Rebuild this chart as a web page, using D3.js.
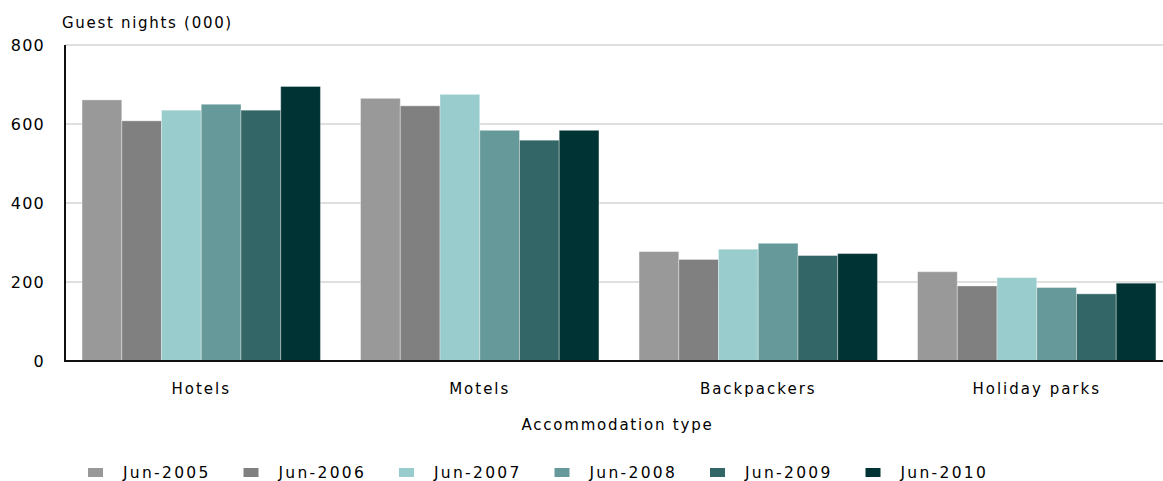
<!DOCTYPE html>
<html>
<head>
<meta charset="utf-8">
<script src="https://cdn.jsdelivr.net/npm/d3@7"></script>
<style>
  html, body { margin: 0; padding: 0; background: #fff; }
  svg text { font-family: "DejaVu Sans", Verdana, sans-serif; fill: #000; }
</style>
</head>
<body>
<svg id="chart" width="1163" height="481"></svg>
<script>
// ---- data ----
const categories = ["Hotels", "Motels", "Backpackers", "Holiday parks"];
const seriesNames = ["Jun-2005", "Jun-2006", "Jun-2007", "Jun-2008", "Jun-2009", "Jun-2010"];
const jun2005 = [661, 665, 277, 226];
const jun2006 = [608, 646, 257, 190];
const jun2007 = [635, 675, 283, 211];
const jun2008 = [650, 584, 298, 186];
const jun2009 = [635, 559, 267, 170];
const jun2010 = [695, 584, 272, 197];
const seriesValues = [jun2005, jun2006, jun2007, jun2008, jun2009, jun2010];
const yTicks = [0, 200, 400, 600, 800];
const colors = ["#999999", "#808080", "#99CCCC", "#669999", "#336666", "#003333"];
const yTitle = "Guest nights (000)";
const xTitle = "Accommodation type";

// ---- layout ----
const svg = d3.select("#chart");
const plotLeft = 65, plotRight = 1170, plotTop = 45, plotBottom = 361;

const x0 = d3.scaleBand().domain(categories).range([62, 1176])
  .paddingInner(0.144).paddingOuter(0.072);
const x1 = d3.scaleBand().domain(seriesNames).range([0, x0.bandwidth()]);
const y = d3.scaleLinear().domain([0, 800]).range([plotBottom, plotTop]);

// gridlines
svg.append("g").selectAll("line").data(yTicks.filter(t => t > 0)).join("line")
  .attr("x1", plotLeft).attr("x2", plotRight)
  .attr("y1", d => y(d)).attr("y2", d => y(d))
  .attr("stroke", "#d4d4d4").attr("stroke-width", 1.5);

// bars
const rows = [];
categories.forEach((c, ci) => seriesNames.forEach((s, si) => rows.push({c, s, si, v: seriesValues[si][ci]})));
svg.append("g").selectAll("rect").data(rows).join("rect")
  .attr("x", d => x0(d.c) + x1(d.s))
  .attr("y", d => y(d.v))
  .attr("width", x1.bandwidth())
  .attr("height", d => y(0) - y(d.v))
  .attr("fill", d => colors[d.si])
  .attr("stroke", "rgba(255,255,255,0.35)")
  .attr("stroke-width", 1);

// y axis
const yAxis = d3.axisLeft(y).tickValues(yTicks).tickSize(0).tickPadding(20).tickFormat(d3.format("d"));
const gy = svg.append("g").attr("transform", `translate(${plotLeft},0)`).call(yAxis);
gy.select(".domain").remove();
gy.selectAll("text").attr("font-size", 16).attr("letter-spacing", 1.2).attr("dy", "0.35em")
  .style("font-family", '"DejaVu Sans", Verdana, sans-serif').attr("fill", "#000");
svg.append("line").attr("x1", plotLeft).attr("x2", plotLeft).attr("y1", plotTop).attr("y2", plotBottom + 1)
  .attr("stroke", "#111").attr("stroke-width", 2);

// x axis
const xAxis = d3.axisBottom(x0).tickSize(0).tickPadding(22);
const gx = svg.append("g").attr("transform", `translate(0,${plotBottom})`).call(xAxis);
gx.select(".domain").remove();
gx.selectAll("text").attr("font-size", 15).attr("letter-spacing", 2)
  .style("font-family", '"DejaVu Sans", Verdana, sans-serif').attr("fill", "#000");
svg.append("line").attr("x1", plotLeft).attr("x2", plotRight).attr("y1", plotBottom).attr("y2", plotBottom)
  .attr("stroke", "#111").attr("stroke-width", 2);

// titles
svg.append("text").attr("x", 62).attr("y", 28).attr("font-size", 15).attr("letter-spacing", 1.7).text(yTitle);
svg.append("text").attr("x", (plotLeft + plotRight) / 2).attr("y", 430).attr("text-anchor", "middle")
  .attr("font-size", 15).attr("letter-spacing", 1.8).text(xTitle);

// legend
const leg = svg.append("g").selectAll("g").data(seriesNames).join("g")
  .attr("transform", (d, i) => `translate(${88 + i * 155.5},0)`);
leg.append("rect").attr("x", 0).attr("y", 468).attr("width", 15).attr("height", 9)
  .attr("fill", (d, i) => colors[i]);
leg.append("text").attr("x", 35).attr("y", 478).attr("font-size", 15.5).attr("letter-spacing", 2.3).text(d => d);
</script>
</body>
</html>
